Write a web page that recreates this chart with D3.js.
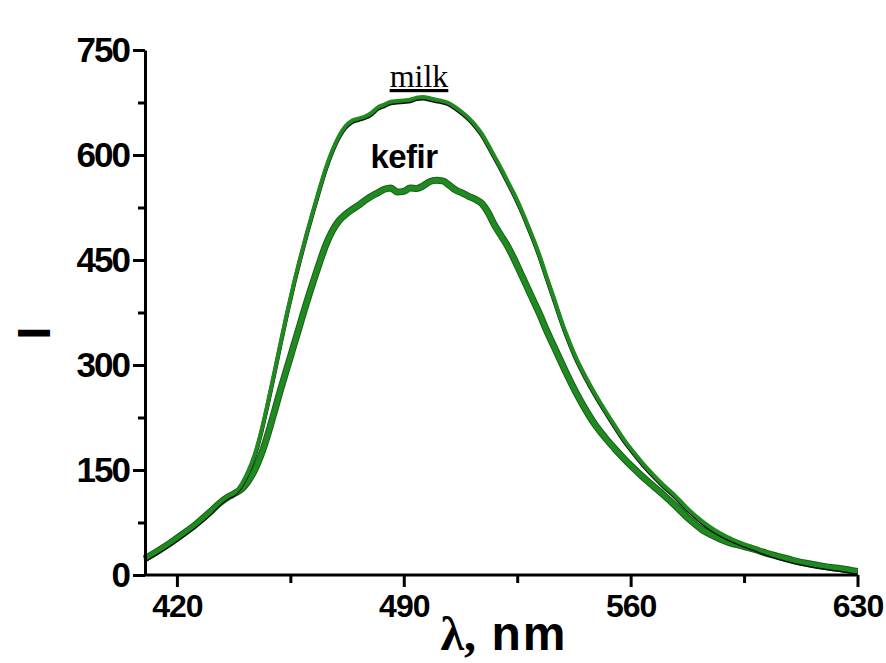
<!DOCTYPE html>
<html>
<head>
<meta charset="utf-8">
<script src="https://cdn.jsdelivr.net/npm/d3@7"></script>
<style>
  body { margin: 0; background: #fff; }
  svg { display: block; }
</style>
</head>
<body>
<div id="chart"></div>
<script>
// wavelength (nm)
var wavelengths = [410, 414, 418, 422, 426, 430, 433, 436, 438, 440, 442, 444, 446, 448, 450,
    452, 454, 456, 458, 460, 462, 464, 466, 468, 470, 472, 474, 476, 478, 480, 482, 484, 486,
    488, 490, 492, 494, 496, 498, 500, 502, 504, 506, 508, 510, 512, 514, 516, 518, 520, 522,
    524, 526, 528, 530, 532, 534, 536, 538, 540, 543, 546, 549, 552, 555, 558, 561, 564, 567,
    570, 574, 578, 582, 586, 590, 594, 598, 602, 606, 610, 615, 620, 625, 630];

var milk = [23, 34, 46, 59, 73, 89, 103, 113, 118, 130, 148, 172, 205, 245, 288,
    332, 375, 415, 452, 487, 520, 552, 582, 607, 627, 641, 649, 652, 655, 660, 668, 672, 676,
    677, 678, 679, 682, 683, 681, 679, 677, 674, 668, 661, 653, 643, 631, 615, 598, 581, 563,
    545, 525, 503, 480, 455, 427, 400, 372, 346, 312, 284, 259, 236, 214, 193, 175, 158, 143,
    129, 112, 93, 77, 64, 54, 46, 39, 32, 26, 21, 16, 12, 9, 5];

var kefir = [23, 34, 46, 59, 73, 89, 102, 112, 117, 123, 134, 150, 172, 200, 232,
    265, 296, 327, 358, 389, 418, 446, 472, 492, 506, 515, 522, 528, 535, 541, 546, 551, 553,
    547, 548, 553, 552, 556, 562, 564, 563, 557, 550, 546, 541, 537, 531, 518, 500, 485, 470,
    452, 432, 412, 392, 372, 350, 330, 310, 290, 262, 237, 215, 197, 181, 166, 152, 139, 127,
    115, 98, 80, 65, 55, 47, 42, 37, 31, 26, 21, 16, 12, 9, 5];

var x_ticks = [420, 490, 560, 630];
var x_minor = [455, 525, 595];
var y_ticks = [0, 150, 300, 450, 600, 750];
var y_minor = [75, 225, 375, 525, 675];

var chart_width = 886;
var chart_height = 663;

var svg = d3.select('#chart')
    .append('svg')
    .attr('width', chart_width)
    .attr('height', chart_height)

var x_scale = d3.scaleLinear()
    .domain([410, 630])
    .range([144.5, 857.5])

var y_scale = d3.scaleLinear()
    .domain([0, 750])
    .range([575, 50])

var milk_data = wavelengths.map(function (w, i) { return { x: w, y: milk[i] } })
var kefir_data = wavelengths.map(function (w, i) { return { x: w, y: kefir[i] } })

var line = d3.line()
    .x(function (d) { return x_scale(d.x) })
    .y(function (d) { return y_scale(d.y) })
    .curve(d3.curveMonotoneX)

// kefir: thick green with dark rim
svg.append('path')
    .attr('d', line(kefir_data))
    .attr('fill', 'none')
    .attr('stroke', '#1a5e1a')
    .attr('stroke-width', 7)
    .attr('stroke-linejoin', 'round')

svg.append('path')
    .attr('d', line(kefir_data))
    .attr('fill', 'none')
    .attr('stroke', '#1f8a1f')
    .attr('stroke-width', 5)
    .attr('stroke-linejoin', 'round')

// milk: black line with green drawn slightly above it
svg.append('path')
    .attr('d', line(milk_data))
    .attr('fill', 'none')
    .attr('stroke', '#111')
    .attr('stroke-width', 4)
    .attr('transform', 'translate(0,1.5)')

svg.append('path')
    .attr('d', line(milk_data))
    .attr('fill', 'none')
    .attr('stroke', '#1f8a1f')
    .attr('stroke-width', 4)

// axes
var x_axis = d3.axisBottom(x_scale)
    .tickValues(x_ticks)
    .tickSize(12)
    .tickSizeOuter(0)

var x_axis_minor = d3.axisBottom(x_scale)
    .tickValues(x_minor)
    .tickSize(8)
    .tickFormat('')

var y_axis = d3.axisLeft(y_scale)
    .tickValues(y_ticks)
    .tickSize(12)
    .tickSizeOuter(0)

var y_axis_minor = d3.axisLeft(y_scale)
    .tickValues(y_minor)
    .tickSize(7)
    .tickFormat('')

var gx = svg.append('g')
    .attr('transform', 'translate(0,575)')
    .call(x_axis)

svg.append('g')
    .attr('transform', 'translate(0,575)')
    .call(x_axis_minor)
    .select('.domain').remove()

var gy = svg.append('g')
    .attr('transform', 'translate(145,0)')
    .call(y_axis)

svg.append('g')
    .attr('transform', 'translate(145,0)')
    .call(y_axis_minor)
    .select('.domain').remove()

svg.selectAll('.domain, .tick line')
    .attr('stroke', '#000')
    .attr('stroke-width', 3)

gx.select('.domain').attr('d', 'M144,0H858')

gx.selectAll('text')
    .attr('font-family', 'Liberation Sans, Arial, sans-serif')
    .attr('font-weight', 'bold')
    .attr('font-size', 32)
    .attr('letter-spacing', -1)
    .attr('fill', '#000')
    .attr('y', 19)

gy.selectAll('text')
    .attr('font-family', 'Liberation Sans, Arial, sans-serif')
    .attr('font-weight', 'bold')
    .attr('font-size', 35)
    .attr('letter-spacing', -2)
    .attr('fill', '#000')
    .attr('x', -16)

// axis titles
svg.append('text')
    .text('I')
    .attr('transform', 'translate(50,333) rotate(-90)')
    .attr('text-anchor', 'middle')
    .attr('font-family', 'Liberation Sans, Arial, sans-serif')
    .attr('font-weight', 'bold')
    .attr('font-size', 46)
    .attr('fill', '#000')

var xt = svg.append('text')
    .attr('x', 504)
    .attr('y', 650)
    .attr('text-anchor', 'middle')
    .attr('font-weight', 'bold')
    .attr('font-size', 48)
    .attr('fill', '#000')

xt.append('tspan')
    .attr('font-family', 'Liberation Serif, Times New Roman, serif')
    .text('λ,')

xt.append('tspan')
    .attr('font-family', 'Liberation Sans, Arial, sans-serif')
    .attr('letter-spacing', 2)
    .text(' nm')

// curve labels
svg.append('text')
    .text('milk')
    .attr('x', 419)
    .attr('y', 87)
    .attr('text-anchor', 'middle')
    .attr('font-family', 'Liberation Serif, Times New Roman, serif')
    .attr('font-size', 32)
    .attr('text-decoration', 'underline')
    .attr('fill', '#000')

svg.append('text')
    .text('kefir')
    .attr('x', 404)
    .attr('y', 168)
    .attr('text-anchor', 'middle')
    .attr('font-family', 'Liberation Sans, Arial, sans-serif')
    .attr('font-weight', 'bold')
    .attr('font-size', 33)
    .attr('letter-spacing', -0.5)
    .attr('fill', '#000')
</script>
</body>
</html>
